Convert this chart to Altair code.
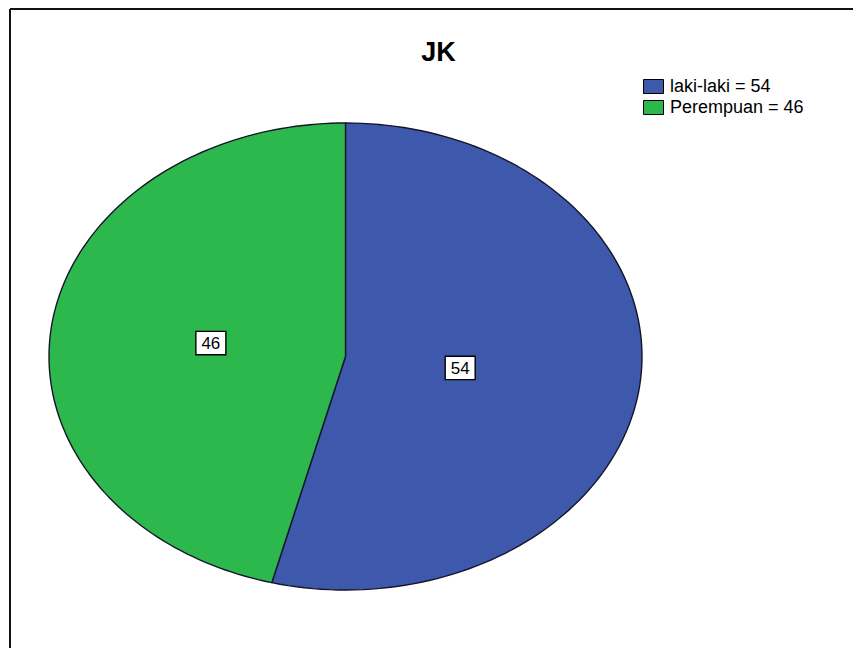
import altair as alt
import pandas as pd

# ---- data ----
categories = ["laki-laki", "Perempuan"]
values = [54, 46]
colors = ["#3E58AC", "#2DB84D"]
chart_title = "JK"

legend_labels = [f"{c} = {v}" for c, v in zip(categories, values)]
df = pd.DataFrame({
    "category": categories,
    "value": values,
    "label": legend_labels,
    "idx": list(range(len(categories))),
})

FONT = "Liberation Sans"
W, H = 845, 640
N = 120  # outline resolution per slice

xscale = alt.Scale(domain=[-1, 1], range=[41, 634], nice=False, zero=False)
yscale = alt.Scale(domain=[-1, 1], range=[582, 115], nice=False, zero=False)

base = (
    alt.Chart(df)
    .transform_joinaggregate(total="sum(value)")
    .transform_window(cum="sum(value)", sort=[alt.SortField("idx")], frame=[None, 0])
    .transform_calculate(
        start="(datum.cum - datum.value) / datum.total",
        end="datum.cum / datum.total",
    )
)

slices = (
    base.transform_calculate(steps=f"sequence(-1, {N + 2})")
    .transform_flatten(["steps"], as_=["step"])
    .transform_calculate(
        inside=f"datum.step >= 0 && datum.step <= {N}",
        ang=f"2 * PI * (datum.start + (datum.end - datum.start) * clamp(datum.step, 0, {N}) / {N})",
    )
    .transform_calculate(
        px="datum.inside ? sin(datum.ang) : 0",
        py="datum.inside ? cos(datum.ang) : 0",
    )
    .mark_line(filled=True, stroke="#15152a", strokeWidth=1.4, strokeJoin="round", opacity=1)
    .encode(
        x=alt.X("px:Q", scale=xscale, axis=None),
        y=alt.Y("py:Q", scale=yscale, axis=None),
        order=alt.Order("step:Q"),
        color=alt.Color(
            "label:N",
            scale=alt.Scale(domain=legend_labels, range=colors),
            legend=alt.Legend(
                title=None,
                orient="none",
                legendX=635,
                legendY=68,
                symbolType="M-1,-0.7L1,-0.7L1,0.7L-1,0.7Z",
                symbolSize=400,
                symbolStrokeColor="black",
                symbolStrokeWidth=1,
                symbolOpacity=1,
                labelFont=FONT,
                labelFontSize=18,
                labelColor="black",
                labelOffset=6,
                rowPadding=1,
            ),
        ),
    )
)

label_base = (
    base.transform_calculate(
        half="PI * (datum.end - datum.start)",
        mid="PI * (datum.start + datum.end)",
    )
    .transform_calculate(r="2 / 3 * sin(datum.half) / datum.half")
    .transform_calculate(lx="datum.r * sin(datum.mid)", ly="datum.r * cos(datum.mid)")
)

boxes = label_base.mark_point(
    shape="M-1,-0.78L1,-0.78L1,0.78L-1,0.78Z",
    size=900,
    filled=True,
    fill="white",
    stroke="black",
    strokeWidth=1.4,
    opacity=1,
).encode(x=alt.X("lx:Q", scale=xscale), y=alt.Y("ly:Q", scale=yscale))

texts = label_base.mark_text(
    font=FONT, fontSize=17, color="black", align="center", baseline="middle", dy=1
).encode(x=alt.X("lx:Q", scale=xscale), y=alt.Y("ly:Q", scale=yscale), text="value:Q")

frame_df = pd.DataFrame({"k": [0]})
frame_left = alt.Chart(frame_df).mark_rule(color="#111", strokeWidth=2).encode(
    x=alt.value(2), y=alt.value(1), y2=alt.value(H)
)
frame_top = alt.Chart(frame_df).mark_rule(color="#111", strokeWidth=2).encode(
    x=alt.value(2), x2=alt.value(W), y=alt.value(1)
)

chart = (
    alt.layer(frame_left, frame_top, slices, boxes, texts)
    .properties(
        width=W,
        height=H,
        padding=0,
        title=alt.TitleParams(
            text=chart_title,
            font=FONT,
            fontSize=27,
            fontWeight="bold",
            color="black",
            anchor="middle",
            offset=-80,
            baseline="alphabetic",
            dx=8,
        ),
    )
    .configure_view(stroke=None)
)

chart.save("out.html", embed_options={"renderer": "svg", "actions": False})
